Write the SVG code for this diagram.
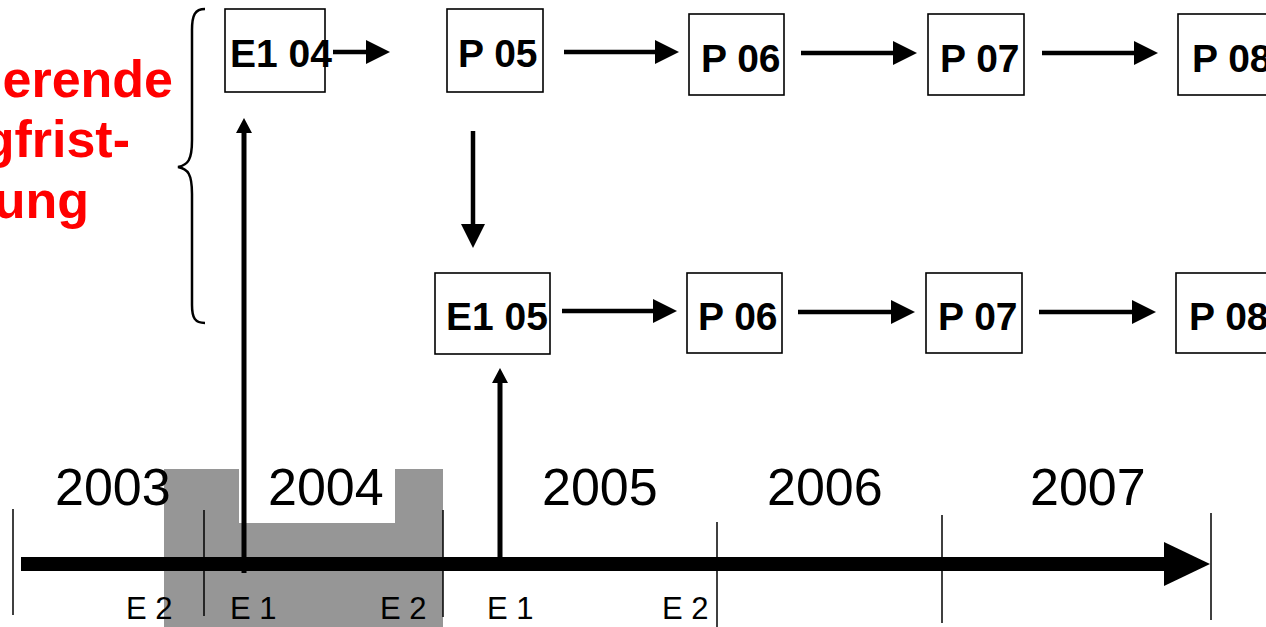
<svg xmlns="http://www.w3.org/2000/svg" width="1266" height="627" viewBox="0 0 1266 627">
<defs>
<style>
.box{fill:#fff;stroke:#000;stroke-width:1.6}
.bt{font-family:"Liberation Sans",Arial,sans-serif;font-weight:bold;font-size:39px;fill:#000}
.red{font-family:"Liberation Sans",Arial,sans-serif;font-weight:bold;font-size:52px;fill:#ff0000}
.yr{font-family:"Liberation Sans",Arial,sans-serif;font-size:52px;fill:#000}
.el{font-family:"Liberation Sans",Arial,sans-serif;font-size:31px;fill:#000}
.ar{stroke:#000;stroke-width:4.5;fill:none;marker-end:url(#ah)}
.up{stroke:#000;stroke-width:5;fill:none;marker-end:url(#ahs)}
.tick{stroke:#000;stroke-width:1.5}
</style>
<marker id="ah" markerUnits="userSpaceOnUse" markerWidth="24" markerHeight="24" refX="0" refY="12" orient="auto" overflow="visible">
<path d="M0,0 L24,12 L0,24 z" fill="#000"/>
</marker>
<marker id="ahs" markerUnits="userSpaceOnUse" markerWidth="16" markerHeight="16" refX="0" refY="8" orient="auto" overflow="visible">
<path d="M0,0 L15,8 L0,16 z" fill="#000"/>
</marker>
</defs>
<rect width="1266" height="627" fill="#fff"/>

<g id="shading">
<path d="M164,469 H239 V523 H395 V469 H443 V627 H164 z" fill="#969696"/>
</g>

<g id="label-red">
<text class="red" x="173" y="97" text-anchor="end">erende</text>
<text class="red" x="130" y="157" text-anchor="end">gfrist-</text>
<text class="red" x="89" y="218" text-anchor="end">ung</text>
</g>

<g id="brace">
<path d="M205,9 C195,9 192,15 192,30 L192,140 C192,160 188,165 178,167 C188,169 192,174 192,194 L192,305 C192,318 195,323 205,323" fill="none" stroke="#000" stroke-width="2.5"/>
</g>

<g id="timeline">
<line x1="21" y1="564" x2="1166" y2="564" stroke="#000" stroke-width="14"/>
<path d="M1164,542 L1210,564 L1164,586 z" fill="#000"/>
<line class="tick" x1="13" y1="509" x2="13" y2="615"/>
<line class="tick" x1="204" y1="510" x2="204" y2="616"/>
<line class="tick" x1="443" y1="510" x2="443" y2="617"/>
<line class="tick" x1="717" y1="522" x2="717" y2="627"/>
<line class="tick" x1="942" y1="515" x2="942" y2="623"/>
<line class="tick" x1="1211" y1="513" x2="1211" y2="620"/>
<text class="yr" x="55" y="505">2003</text>
<text class="yr" x="268" y="505">2004</text>
<text class="yr" x="542" y="505">2005</text>
<text class="yr" x="767" y="505">2006</text>
<text class="yr" x="1030" y="505">2007</text>
<text class="el" x="126" y="619">E 2</text>
<text class="el" x="230" y="619">E 1</text>
<text class="el" x="380" y="619">E 2</text>
<text class="el" x="487" y="619">E 1</text>
<text class="el" x="662" y="619">E 2</text>
</g>

<g id="n-e104"><rect class="box" x="225" y="9" width="100" height="83"/><text class="bt" x="230" y="67">E1 04</text></g>
<g id="n-p05"><rect class="box" x="447" y="9" width="96" height="83"/><text class="bt" x="458" y="67">P 05</text></g>
<g id="n-p06a"><rect class="box" x="689" y="14" width="95" height="81"/><text class="bt" x="701" y="72">P 06</text></g>
<g id="n-p07a"><rect class="box" x="928" y="14" width="96" height="81"/><text class="bt" x="940" y="72">P 07</text></g>
<g id="n-p08a"><rect class="box" x="1178" y="14" width="100" height="81"/><text class="bt" x="1192" y="72">P 08</text></g>
<g id="n-e105"><rect class="box" x="435" y="273" width="115" height="81"/><text class="bt" x="446" y="330">E1 05</text></g>
<g id="n-p06b"><rect class="box" x="687" y="273" width="95" height="80"/><text class="bt" x="698" y="330">P 06</text></g>
<g id="n-p07b"><rect class="box" x="926" y="273" width="96" height="80"/><text class="bt" x="938" y="330">P 07</text></g>
<g id="n-p08b"><rect class="box" x="1176" y="273" width="100" height="80"/><text class="bt" x="1189" y="330">P 08</text></g>

<g id="connectors">
<line class="ar" x1="333" y1="52" x2="366" y2="52"/>
<line class="ar" x1="564" y1="52" x2="655" y2="52"/>
<line class="ar" x1="801" y1="53" x2="893" y2="53"/>
<line class="ar" x1="1042" y1="53" x2="1134" y2="53"/>
<line class="ar" x1="473" y1="131" x2="473" y2="224"/>
<line class="ar" x1="562" y1="311" x2="653" y2="311"/>
<line class="ar" x1="798" y1="312" x2="891" y2="312"/>
<line class="ar" x1="1039" y1="312" x2="1132" y2="312"/>
<line class="up" x1="244" y1="573" x2="244" y2="133"/>
<line class="up" x1="500" y1="558" x2="500" y2="383"/>
</g>
</svg>
